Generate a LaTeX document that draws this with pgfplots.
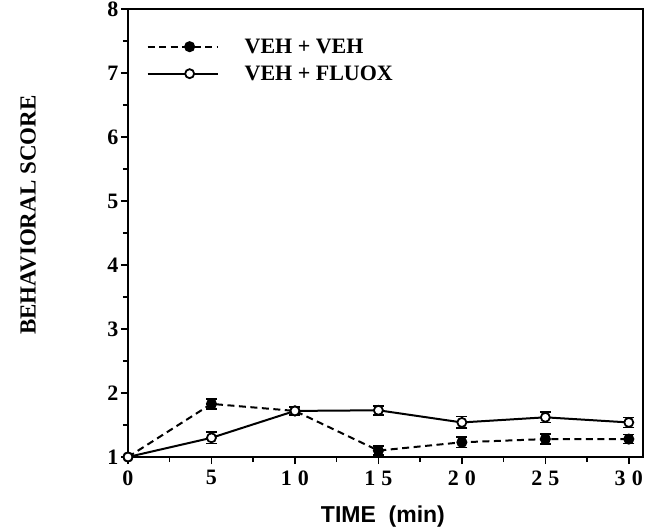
\documentclass[border=0pt]{standalone}
\usepackage{fontspec}
\setmainfont{Liberation Serif}
\newfontfamily\arialfont{Liberation Sans}
\usepackage{pgfplots}
\usepackage{pgfplotstable}
\pgfplotsset{compat=1.18}
\pgfplotstableread{
x y e
0 1.00 0.00
5 1.83 0.08
10 1.72 0.06
15 1.10 0.07
20 1.23 0.08
25 1.28 0.08
30 1.28 0.07
}\vehveh
\pgfplotstableread{
x y e
0 1.00 0.00
5 1.30 0.09
10 1.72 0.07
15 1.73 0.07
20 1.54 0.09
25 1.62 0.08
30 1.54 0.08
}\vehfluox
\begin{document}
\begin{tikzpicture}
\path[use as bounding box] (-128pt,-74pt) rectangle (523pt,457pt);
\begin{axis}[
  at={(0,0)}, anchor=south west,
  scale only axis, width=515pt, height=448pt,
  xmin=0, xmax=30.85, ymin=1, ymax=8,
  xtick={0,5,10,15,20,25,30},
  xticklabels={0,5,1\hspace{0.28em}0,1\hspace{0.28em}5,2\hspace{0.28em}0,2\hspace{0.28em}5,3\hspace{0.28em}0},
  ytick={1,2,3,4,5,6,7,8},
  minor x tick num=1, minor y tick num=1,
  tick pos=left, tick align=outside,
  major tick length=7pt, minor tick length=5pt,
  every tick/.style={black, line width=1.5pt},
  axis line style={line width=2pt},
  /pgf/number format/assume math mode=true,
  ticklabel style={font=\fontsize{22}{22}\selectfont\bfseries},
  xticklabel style={yshift=-3pt},
  yticklabel style={xshift=1pt},
  ylabel={BEHAVIORAL SCORE},
  ylabel style={at={(axis description cs:-0.194,0.54)}, anchor=center, font=\fontsize{23}{23}\selectfont\bfseries},
  xlabel={TIME\ \ (min)},
  xlabel style={at={(axis description cs:0.495,-0.132)}, anchor=center, font=\fontsize{23}{23}\arialfont\bfseries},
  legend style={at={(axis description cs:0.03,0.943)}, anchor=north west, draw=none, fill=none,
    font=\fontsize{22}{22}\selectfont\bfseries, row sep=7pt,
    /tikz/every odd column/.append style={column sep=24pt}},
  legend cell align=left,
  legend image code/.code={\draw[#1, mark repeat=2, mark phase=2] plot coordinates {(0pt,0pt) (42pt,0pt) (70pt,0pt)};},
]
\addplot[black, line width=2pt, dash pattern=on 7pt off 4.5pt, mark=*, mark size=4.5pt,
  mark options={solid, fill=black},
  error bars/.cd, y dir=both, y explicit,
  error bar style={solid, line width=1.6pt},
  error mark options={rotate=90, mark size=5.5pt, line width=1.6pt}]
  table[x=x, y=y, y error=e] {\vehveh};
\addlegendentry{VEH + VEH}
\addplot[black, line width=2pt, mark=*, mark size=4.5pt,
  mark options={solid, fill=white, line width=1.8pt},
  error bars/.cd, y dir=both, y explicit,
  error bar style={solid, line width=1.6pt},
  error mark options={rotate=90, mark size=5.5pt, line width=1.6pt}]
  table[x=x, y=y, y error=e] {\vehfluox};
\addlegendentry{VEH + FLUOX}
\end{axis}
\end{tikzpicture}
\end{document}
